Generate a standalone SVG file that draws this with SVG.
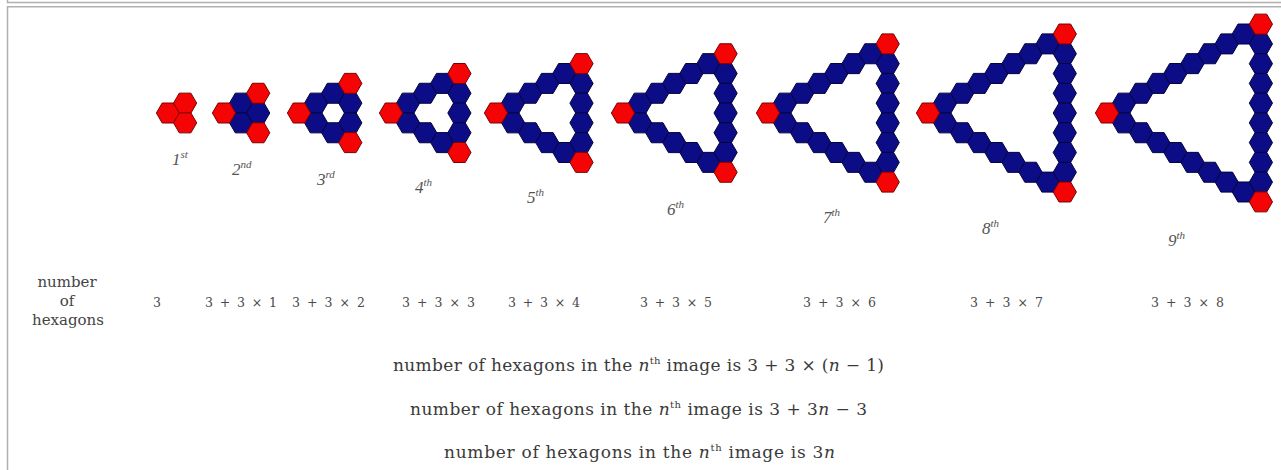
<svg xmlns="http://www.w3.org/2000/svg" xmlns:xlink="http://www.w3.org/1999/xlink" width="1281" height="470" viewBox="0 0 1281 470">
<style>
.b{fill:#0c0c86;stroke:#04043c;stroke-width:1}
.r{fill:#f40404;stroke:#7a0000;stroke-width:1}
.frame{fill:none;stroke:#b0b0b0;stroke-width:1.5}
.lab{font-family:"Liberation Serif",serif;font-style:italic;font-size:17px;fill:#555}
.sup{font-size:11px}
.side{font-family:"DejaVu Serif",serif;font-size:15px;fill:#444;text-anchor:middle}
.val{font-family:"DejaVu Serif",serif;font-size:12.5px;fill:#4a4a4a}
.eq{font-family:"DejaVu Serif",serif;font-size:17px;fill:#3a3a3a}
.it{font-style:italic}
.th{font-size:10px}
</style>
<defs>
<polygon id="h" points="11.6,0 5.8,10 -5.8,10 -11.6,0 -5.8,-10 5.8,-10"/>
<g id="d1"><use href="#h" x="17.1" y="-9.87"/></g>
<g id="d2"><use href="#d1"/><use href="#h" x="34.2" y="-19.75"/></g>
<g id="d3"><use href="#d2"/><use href="#h" x="51.3" y="-29.62"/></g>
<g id="d4"><use href="#d3"/><use href="#h" x="68.4" y="-39.49"/></g>
<g id="d5"><use href="#d4"/><use href="#h" x="85.5" y="-49.37"/></g>
<g id="d6"><use href="#d5"/><use href="#h" x="102.6" y="-59.24"/></g>
<g id="d7"><use href="#d6"/><use href="#h" x="119.7" y="-69.11"/></g>
<g id="d8"><use href="#d7"/><use href="#h" x="136.8" y="-78.98"/></g>
</defs>
<rect width="1281" height="470" fill="#fff"/>
<path class="frame" d="M7.5,0 V2.5 H1281 M1281,6.75 H7.5 V470"/>

<g id="fig1">
<g transform="translate(168,113)">
<g class="r"><use href="#h"/><use href="#h" x="17.1" y="-9.87"/><use href="#h" x="17.1" y="9.87"/></g>
</g>
<text class="lab" x="172" y="165">1<tspan class="sup" dy="-7">st</tspan></text>
</g>

<g id="fig2">
<g transform="translate(224,113)">
<g class="b"><use href="#d1"/><use href="#d1" transform="scale(1,-1)"/><use href="#h" x="34.2" y="0"/></g>
<g class="r"><use href="#h"/><use href="#h" x="34.2" y="-19.75"/><use href="#h" x="34.2" y="19.75"/></g>
</g>
<text class="lab" x="232" y="175">2<tspan class="sup" dy="-7">nd</tspan></text>
</g>

<g id="fig3">
<g transform="translate(299,113)">
<g class="b"><use href="#d2"/><use href="#d2" transform="scale(1,-1)"/><use href="#h" x="51.3" y="-9.87"/><use href="#h" x="51.3" y="9.87"/></g>
<g class="r"><use href="#h"/><use href="#h" x="51.3" y="-29.62"/><use href="#h" x="51.3" y="29.62"/></g>
</g>
<text class="lab" x="317" y="185">3<tspan class="sup" dy="-7">rd</tspan></text>
</g>

<g id="fig4">
<g transform="translate(391,113)">
<g class="b"><use href="#d3"/><use href="#d3" transform="scale(1,-1)"/><use href="#h" x="68.4" y="-19.75"/><use href="#h" x="68.4" y="0"/><use href="#h" x="68.4" y="19.75"/></g>
<g class="r"><use href="#h"/><use href="#h" x="68.4" y="-39.49"/><use href="#h" x="68.4" y="39.49"/></g>
</g>
<text class="lab" x="415" y="193">4<tspan class="sup" dy="-7">th</tspan></text>
</g>

<g id="fig5">
<g transform="translate(496,113)">
<g class="b"><use href="#d4"/><use href="#d4" transform="scale(1,-1)"/><use href="#h" x="85.5" y="-29.62"/><use href="#h" x="85.5" y="-9.87"/><use href="#h" x="85.5" y="9.87"/><use href="#h" x="85.5" y="29.62"/></g>
<g class="r"><use href="#h"/><use href="#h" x="85.5" y="-49.37"/><use href="#h" x="85.5" y="49.37"/></g>
</g>
<text class="lab" x="527" y="203">5<tspan class="sup" dy="-7">th</tspan></text>
</g>

<g id="fig6">
<g transform="translate(623,113)">
<g class="b"><use href="#d5"/><use href="#d5" transform="scale(1,-1)"/><use href="#h" x="102.6" y="-39.49"/><use href="#h" x="102.6" y="-19.75"/><use href="#h" x="102.6" y="0"/><use href="#h" x="102.6" y="19.75"/><use href="#h" x="102.6" y="39.49"/></g>
<g class="r"><use href="#h"/><use href="#h" x="102.6" y="-59.24"/><use href="#h" x="102.6" y="59.24"/></g>
</g>
<text class="lab" x="667" y="215">6<tspan class="sup" dy="-7">th</tspan></text>
</g>

<g id="fig7">
<g transform="translate(768,113)">
<g class="b"><use href="#d6"/><use href="#d6" transform="scale(1,-1)"/><use href="#h" x="119.7" y="-49.37"/><use href="#h" x="119.7" y="-29.62"/><use href="#h" x="119.7" y="-9.87"/><use href="#h" x="119.7" y="9.87"/><use href="#h" x="119.7" y="29.62"/><use href="#h" x="119.7" y="49.37"/></g>
<g class="r"><use href="#h"/><use href="#h" x="119.7" y="-69.11"/><use href="#h" x="119.7" y="69.11"/></g>
</g>
<text class="lab" x="823" y="223">7<tspan class="sup" dy="-7">th</tspan></text>
</g>

<g id="fig8">
<g transform="translate(928,113)">
<g class="b"><use href="#d7"/><use href="#d7" transform="scale(1,-1)"/><use href="#h" x="136.8" y="-59.24"/><use href="#h" x="136.8" y="-39.49"/><use href="#h" x="136.8" y="-19.75"/><use href="#h" x="136.8" y="0"/><use href="#h" x="136.8" y="19.75"/><use href="#h" x="136.8" y="39.49"/><use href="#h" x="136.8" y="59.24"/></g>
<g class="r"><use href="#h"/><use href="#h" x="136.8" y="-78.98"/><use href="#h" x="136.8" y="78.98"/></g>
</g>
<text class="lab" x="982" y="234">8<tspan class="sup" dy="-7">th</tspan></text>
</g>

<g id="fig9">
<g transform="translate(1107,113)">
<g class="b"><use href="#d8"/><use href="#d8" transform="scale(1,-1)"/><use href="#h" x="153.9" y="-69.11"/><use href="#h" x="153.9" y="-49.37"/><use href="#h" x="153.9" y="-29.62"/><use href="#h" x="153.9" y="-9.87"/><use href="#h" x="153.9" y="9.87"/><use href="#h" x="153.9" y="29.62"/><use href="#h" x="153.9" y="49.37"/><use href="#h" x="153.9" y="69.11"/></g>
<g class="r"><use href="#h"/><use href="#h" x="153.9" y="-88.86"/><use href="#h" x="153.9" y="88.86"/></g>
</g>
<text class="lab" x="1168" y="246">9<tspan class="sup" dy="-7">th</tspan></text>
</g>

<g id="counts">
<text class="side" x="67" y="287">number</text>
<text class="side" x="67" y="306">of</text>
<text class="side" x="68" y="325">hexagons</text>
<text class="val" x="153" y="307">3</text>
<text class="val" x="205" y="307" textLength="72" lengthAdjust="spacing">3 + 3 × 1</text>
<text class="val" x="292" y="307" textLength="73" lengthAdjust="spacing">3 + 3 × 2</text>
<text class="val" x="402" y="307" textLength="73" lengthAdjust="spacing">3 + 3 × 3</text>
<text class="val" x="508" y="307" textLength="72" lengthAdjust="spacing">3 + 3 × 4</text>
<text class="val" x="640" y="307" textLength="72" lengthAdjust="spacing">3 + 3 × 5</text>
<text class="val" x="803" y="307" textLength="73" lengthAdjust="spacing">3 + 3 × 6</text>
<text class="val" x="970" y="307" textLength="73" lengthAdjust="spacing">3 + 3 × 7</text>
<text class="val" x="1151" y="307" textLength="73" lengthAdjust="spacing">3 + 3 × 8</text>
</g>

<g id="formulas">
<text class="eq" x="393" y="371" textLength="491" lengthAdjust="spacing">number of hexagons in the <tspan class="it">n</tspan><tspan class="th" dy="-7">th</tspan><tspan dy="7"> image is 3 + 3 × (</tspan><tspan class="it">n</tspan> − 1)</text>
<text class="eq" x="410" y="415" textLength="457" lengthAdjust="spacing">number of hexagons in the <tspan class="it">n</tspan><tspan class="th" dy="-7">th</tspan><tspan dy="7"> image is 3 + 3</tspan><tspan class="it">n</tspan> − 3</text>
<text class="eq" x="444" y="458" textLength="391" lengthAdjust="spacing">number of hexagons in the <tspan class="it">n</tspan><tspan class="th" dy="-7">th</tspan><tspan dy="7"> image is 3</tspan><tspan class="it">n</tspan></text>
</g>
</svg>
